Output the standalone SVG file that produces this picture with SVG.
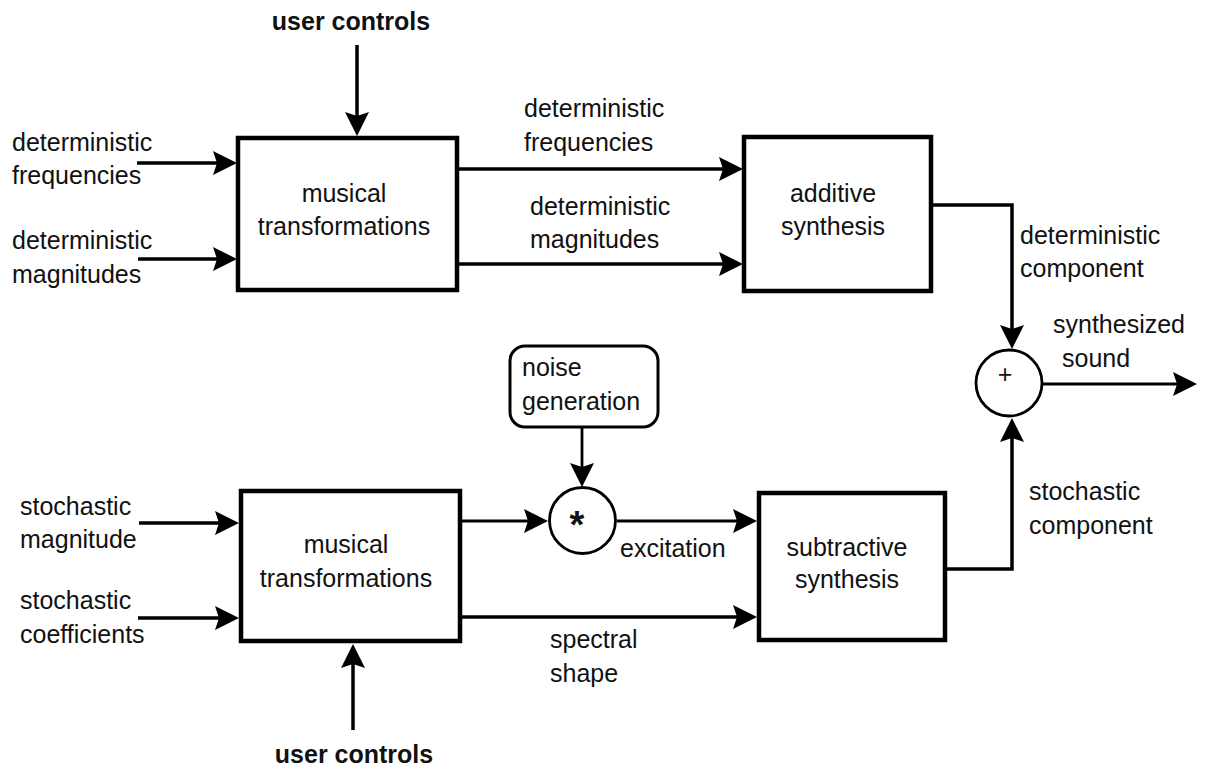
<svg xmlns="http://www.w3.org/2000/svg" width="1207" height="772" viewBox="0 0 1207 772">
  <style>
    .box { fill: #fff; stroke: #000; stroke-width: 4.5; }
    .rbox { fill: #fff; stroke: #000; stroke-width: 3; }
    .op { fill: #fff; stroke: #000; stroke-width: 2.8; }
    .wire { fill: none; stroke: #000; stroke-width: 3.5; marker-end: url(#arrow); }
    .thin { stroke-width: 2.8; }
    text { font-family: "Liberation Sans", Arial, sans-serif; font-size: 25px; fill: #111; }
    .c { text-anchor: middle; }
    .b { font-weight: bold; }
  </style>
  <defs>
    <marker id="arrow" markerUnits="userSpaceOnUse" markerWidth="26" markerHeight="26" refX="20" refY="12" orient="auto">
      <path d="M0,0 L24,12 L0,24 L4,12 Z" fill="#000"/>
    </marker>
  </defs>

  <rect width="1207" height="772" fill="#fff"/>

  <!-- connectors -->
  <g id="connectors">
    <path class="wire" d="M357,45 V132"/>
    <path class="wire" d="M137,163 H233"/>
    <path class="wire" d="M138,259 H233"/>
    <path class="wire" d="M459,169 H739"/>
    <path class="wire" d="M459,264 H739"/>
    <path class="wire" d="M933,205 H1012 V345"/>
    <path class="wire thin" d="M1043,384 H1193"/>
    <path class="wire" d="M139,523 H235"/>
    <path class="wire" d="M138,618 H235"/>
    <path class="wire" d="M353,730 V648"/>
    <path class="wire thin" d="M462,521 H544"/>
    <path class="wire thin" d="M582,428 V483"/>
    <path class="wire thin" d="M617,521 H753"/>
    <path class="wire" d="M462,617 H753"/>
    <path class="wire" d="M947,569 H1012 V422"/>
  </g>

  <!-- free labels -->
  <g id="labels">
    <text class="b c" x="351" y="30">user controls</text>
    <text x="12" y="151">deterministic</text>
    <text x="12" y="184">frequencies</text>
    <text x="12" y="249">deterministic</text>
    <text x="12" y="283">magnitudes</text>
    <text x="524" y="117">deterministic</text>
    <text x="524" y="151">frequencies</text>
    <text x="530" y="215">deterministic</text>
    <text x="530" y="248">magnitudes</text>
    <text x="1020" y="244">deterministic</text>
    <text x="1020" y="277">component</text>
    <text x="1053" y="333">synthesized</text>
    <text x="1062" y="367">sound</text>
    <text x="20" y="515">stochastic</text>
    <text x="20" y="548">magnitude</text>
    <text x="20" y="609">stochastic</text>
    <text x="20" y="643">coefficients</text>
    <text x="620" y="557">excitation</text>
    <text x="550" y="648">spectral</text>
    <text x="550" y="682">shape</text>
    <text x="1029" y="500">stochastic</text>
    <text x="1029" y="534">component</text>
    <text class="b c" x="354" y="763">user controls</text>
  </g>

  <g id="transform-det">
    <rect class="box" x="238" y="138" width="219" height="152"/>
    <text class="c" x="344" y="202">musical</text>
    <text class="c" x="344" y="235">transformations</text>
  </g>

  <g id="additive">
    <rect class="box" x="744" y="137" width="187" height="154"/>
    <text class="c" x="833" y="202">additive</text>
    <text class="c" x="833" y="235">synthesis</text>
  </g>

  <g id="sum">
    <circle class="op" cx="1009" cy="383" r="33"/>
    <text class="c" x="1005" y="383" style="font-size:25px">+</text>
  </g>

  <g id="noise">
    <rect class="rbox" x="510" y="346" width="148" height="81" rx="15" ry="15"/>
    <text x="522" y="376">noise</text>
    <text x="522" y="410">generation</text>
  </g>

  <g id="multiply">
    <circle class="op" cx="582.5" cy="520.5" r="33"/>
    <text class="b c" x="577" y="538" style="font-size:38px">*</text>
  </g>

  <g id="transform-stoch">
    <rect class="box" x="241" y="491" width="219" height="150"/>
    <text class="c" x="346" y="553">musical</text>
    <text class="c" x="346" y="587">transformations</text>
  </g>

  <g id="subtractive">
    <rect class="box" x="759" y="493" width="186" height="147"/>
    <text class="c" x="847" y="556">subtractive</text>
    <text class="c" x="847" y="588">synthesis</text>
  </g>
</svg>
